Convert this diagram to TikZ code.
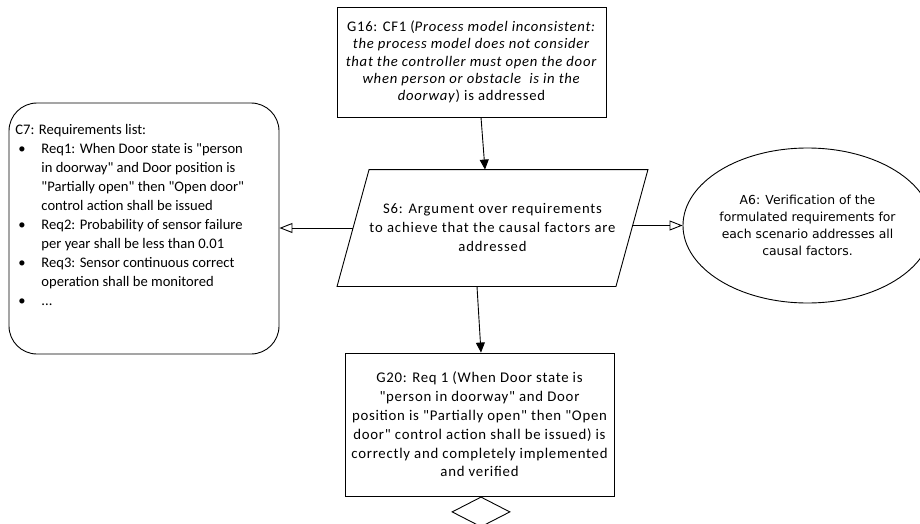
\documentclass[tikz,border=0pt]{standalone}
\usepackage{fontspec}
\setmainfont[Ligatures=TeXOff]{Carlito}
\newfontfamily\wideB[Ligatures=TeXOff,LetterSpace=5]{Carlito}
\newfontfamily\wideC[Ligatures=TeXOff,LetterSpace=6]{Carlito}
\newfontfamily\afont{DejaVu Sans}
\usetikzlibrary{arrows.meta,shapes.geometric}
\begin{document}
\begin{tikzpicture}[x=1pt,y=-1pt,
  line width=0.9pt,
  boxnode/.style={draw, rectangle, inner sep=0pt, align=center},
  fillarrow/.style={-{Triangle[length=10pt,width=9pt]}},
  openarrow/.style={-{Triangle[open,length=13pt,width=10pt]}}]
\useasboundingbox (0,0) rectangle (920,524);

% G16
\node[boxnode, minimum width=269pt, minimum height=110pt, font=\wideB\fontsize{14.67}{17.2}\selectfont] (g16) at (471.5,62)
 {G16: CF1 (\textit{Process model inconsistent:}\\
  \textit{the process model does not consider}\\
  \textit{that the controller must open the door}\\
  \textit{when person or obstacle\ \ is in the}\\
  \textit{doorway}) is addressed};

% S6 (parallelogram)
\node[inner sep=0pt, minimum width=278pt, minimum height=116pt, align=center, font=\wideC\fontsize{14.67}{19}\selectfont] (s6) at (492.5,228)
 {S6: Argument over requirements\\
  to achieve that the causal factors are\\
  addressed};
\draw ([xshift=16pt]s6.north west) -- ([xshift=16pt]s6.north east)
   -- ([xshift=-16pt]s6.south east) -- ([xshift=-16pt]s6.south west) -- cycle;

% C7
\node[draw, rectangle, rounded corners=28pt, minimum width=270pt, minimum height=251pt, inner sep=0pt] (c7) at (144,228.5) {};
\node[anchor=north west, inner sep=0pt, align=left, font=\fontsize{14.6}{19}\selectfont] (c7t) at (15,124)
 {C7: Requirements list:\\
  \hspace*{3pt}\makebox[23pt][l]{\textbullet}Req1: When Door state is "person\\
  \hspace*{26pt}in doorway" and Door position is\\
  \hspace*{26pt}"Partially open" then "Open door"\\
  \hspace*{26pt}control action shall be issued\\
  \hspace*{3pt}\makebox[23pt][l]{\textbullet}Req2: Probability of sensor failure\\
  \hspace*{26pt}per year shall be less than 0.01\\
  \hspace*{3pt}\makebox[23pt][l]{\textbullet}Req3: Sensor continuous correct\\
  \hspace*{26pt}operation shall be monitored\\
  \hspace*{3pt}\makebox[23pt][l]{\textbullet}...};

% A6
\node[draw, ellipse, minimum width=223pt, minimum height=155pt, inner sep=0pt, align=center,
      font=\afont\fontsize{12.4}{16.8}\selectfont] (a6) at (807.5,225.5)
 {A6: Verification of the\\
  formulated requirements for\\
  each scenario addresses all\\
  causal factors.};

% G20
\node[boxnode, minimum width=269pt, minimum height=143pt, font=\wideB\fontsize{14.8}{18.8}\selectfont] (g20) at (479.5,424.5)
 {G20: Req 1 (When Door state is\\
  "person in doorway" and Door\\
  position is "Partially open" then "Open\\
  door" control action shall be issued) is\\
  correctly and completely implemented\\
  and verified};

% undeveloped diamond
\node[draw, diamond, minimum width=58pt, minimum height=30pt, inner sep=0pt, anchor=north] (d20) at ([xshift=1.5pt]g20.south) {};

% connectors
\draw[fillarrow] ([xshift=9.5pt]g16.south) -- ([xshift=-7.5pt]s6.north);
\draw[fillarrow] ([xshift=-15.5pt]s6.south) -- ([xshift=1.5pt]g20.north);
\draw[openarrow] (s6.west) -- (s6.west -| c7.east);
\draw[openarrow] (a6.west -| s6.east) -- (a6.west);
\end{tikzpicture}
\end{document}
